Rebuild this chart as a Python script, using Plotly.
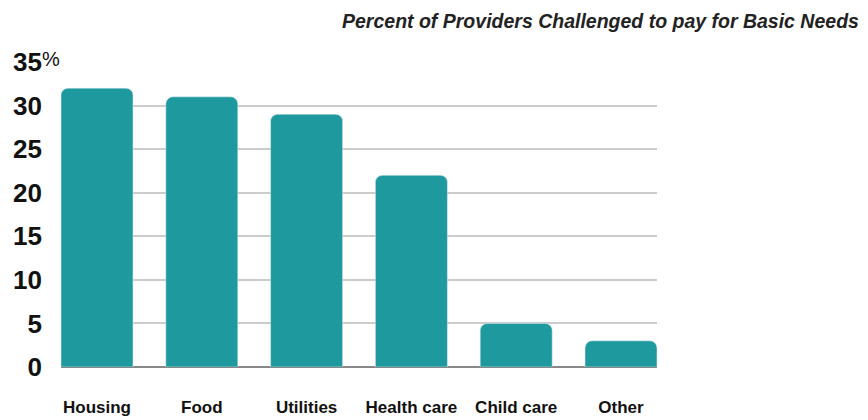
import plotly.graph_objects as go

categories = ["Housing", "Food", "Utilities", "Health care", "Child care", "Other"]
values = [32, 31, 29, 22, 5, 3]
y_ticks = [0, 5, 10, 15, 20, 25, 30, 35]
title_text = "Percent of Providers Challenged to pay for Basic Needs"

BAR = "#1e9a9f"
gap = 0.313
L, R, T, B = 61, 211, 62, 53
W, H = 868, 420

fig = go.Figure(go.Bar(x=categories, y=values, marker=dict(color=BAR, cornerradius=7),
                       hoverinfo="skip"))

fig.update_layout(
    width=W, height=H,
    margin=dict(l=L, r=R, t=T, b=B),
    paper_bgcolor="white", plot_bgcolor="white",
    bargap=gap,
    showlegend=False,
    font=dict(family="Liberation Sans, Arial, sans-serif", color="#111"),
)
fig.update_xaxes(
    range=[-0.5 + gap / 2, len(categories) - 0.5 - gap / 2],
    showgrid=False, showline=False, ticks="", automargin=False,
    tickfont=dict(size=17, family="Liberation Sans, Arial, sans-serif", weight="bold", color="#111"),
    ticklabelstandoff=28,
)
fig.update_yaxes(
    range=[0, 35], tickvals=y_ticks, ticktext=[str(v) for v in y_ticks],
    showgrid=True, gridcolor="#cccccc", gridwidth=1.5,
    zeroline=True, zerolinecolor="#888888", zerolinewidth=2,
    ticks="", showline=False, automargin=False,
    tickfont=dict(size=26, family="Liberation Sans, Arial, sans-serif", weight="bold", color="#111"),
    ticklabelstandoff=18,
)
fig.add_annotation(x=0, xref="paper", xanchor="right", xshift=1, y=35, yref="y", yanchor="middle",
                   yshift=3, text="%", showarrow=False,
                   font=dict(size=20, family="Liberation Sans, Arial, sans-serif", color="#111"))
fig.add_annotation(x=(858 - L) / (W - L - R), xref="paper", y=1, yref="paper", text=title_text,
                   showarrow=False, xanchor="right", yanchor="middle", yshift=41, xshift=3,
                   font=dict(size=19.5, family="Liberation Sans, Arial, sans-serif",
                             weight="bold", style="italic", color="#222"))

fig.write_html("out.html")
